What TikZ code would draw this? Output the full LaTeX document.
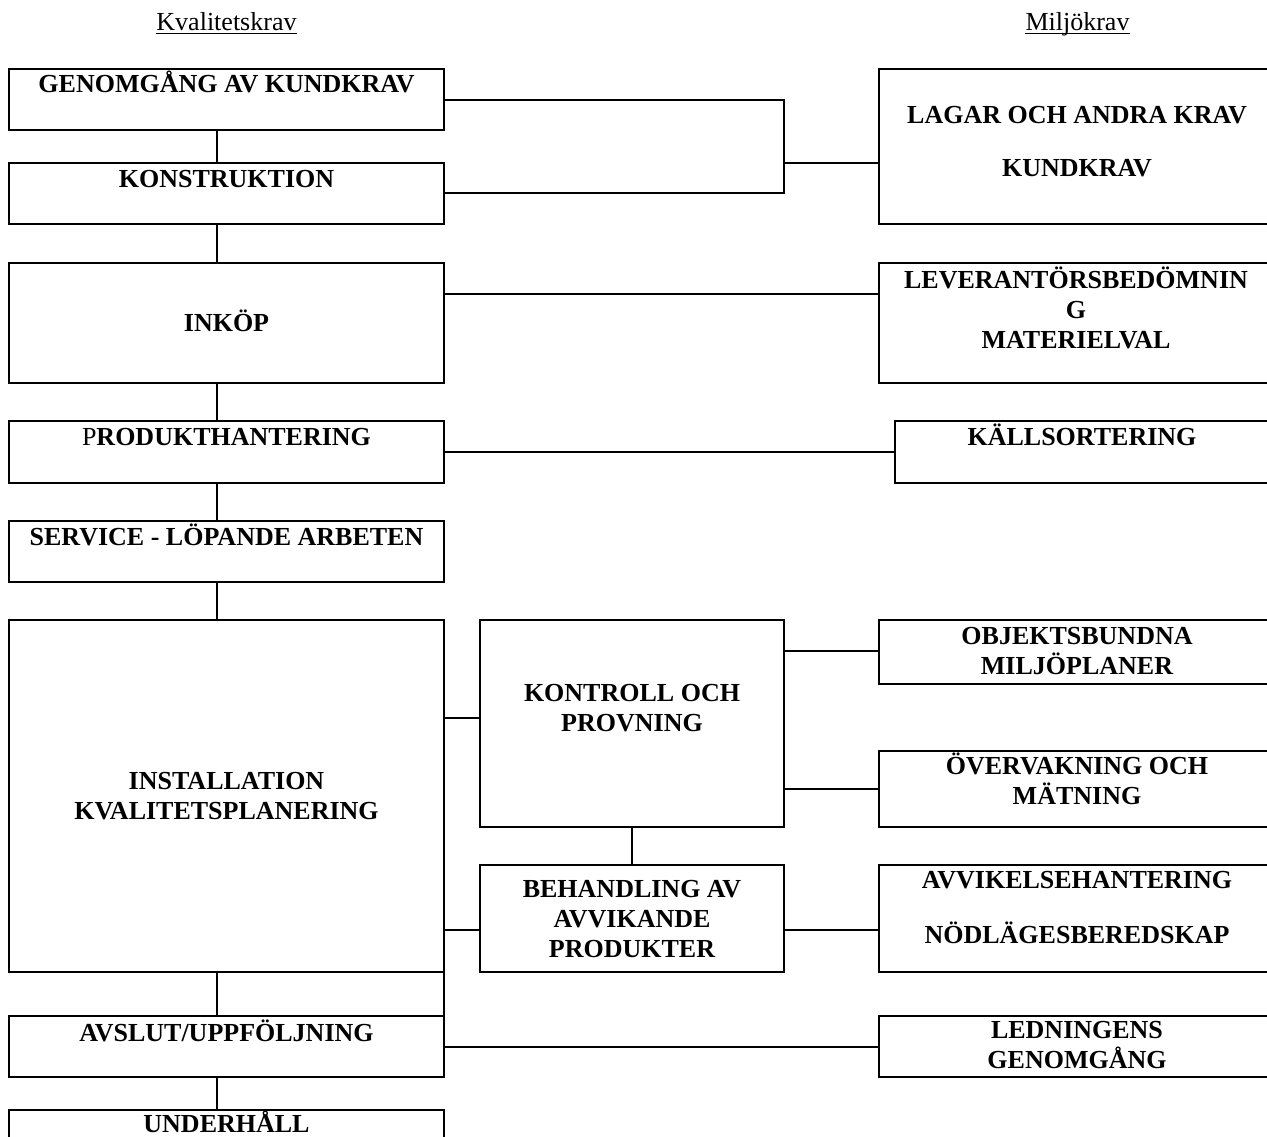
\documentclass[tikz,border=0pt]{standalone}
\usepackage{fontspec}
\setmainfont{Liberation Serif}
\usetikzlibrary{calc}
\begin{document}
\begin{tikzpicture}[x=1pt,y=-1pt,
  box/.style={draw, line width=1.8pt, inner sep=0pt, outer sep=0pt, anchor=north west},
  txt/.style={font=\fontsize{26}{30}\selectfont\bfseries, align=center, inner sep=0pt, anchor=base},
  head/.style={font=\fontsize{26}{30}\selectfont, inner sep=0pt, anchor=base},
  conn/.style={line width=1.8pt},
  uline/.style={line width=1.1pt}]
\fill[white] (0,0) rectangle (1267,1137);
\path[use as bounding box] (0,0) rectangle (1267,1137);
\clip (0,0) rectangle (1267,1137);

% headings
\node[head] (kval) at (226.5,31) {Kvalitetskrav};
\node[head] (milj) at (1077.5,31) {Miljökrav};
\draw[uline] ([yshift=-2.5pt]kval.base west) -- ([yshift=-2.5pt]kval.base east);
\draw[uline] ([yshift=-2.5pt]milj.base west) -- ([yshift=-2.5pt]milj.base east);

% left column
\node[box, minimum width=435pt, minimum height=61pt]  (genom)  at (9,69) {};
\node[box, minimum width=435pt, minimum height=61pt]  (konstr) at (9,163) {};
\node[box, minimum width=435pt, minimum height=120pt] (inkop)  at (9,263) {};
\node[box, minimum width=435pt, minimum height=62pt]  (prod)   at (9,421) {};
\node[box, minimum width=435pt, minimum height=61pt]  (serv)   at (9,521) {};
\node[box, minimum width=435pt, minimum height=352pt] (inst)   at (9,620) {};
\node[box, minimum width=435pt, minimum height=61pt]  (avsl)   at (9,1016) {};
\node[box, minimum width=435pt, minimum height=61pt]  (underh) at (9,1110) {};

% (anchor=base of a multi-line text is the baseline of its last line)
\node[txt] (genomT)  at (226.5,93)  {GENOMGÅNG AV KUNDKRAV};
\node[txt] (konstrT) at (226.5,187) {KONSTRUKTION};
\node[txt] (inkopT)  at (226.5,331) {INKÖP};
\node[txt] (prodT)   at (226.5,445) {{\mdseries P}RODUKTHANTERING};
\node[txt] (servT)   at (226.5,545) {SERVICE - LÖPANDE ARBETEN};
\node[txt] (instT)   at (226.5,819) {INSTALLATION\\KVALITETSPLANERING};
\node[txt] (avslT)   at (226.5,1041) {AVSLUT/UPPFÖLJNING};
\node[txt] (underhT) at (226.5,1132) {UNDERHÅLL};

% middle column
\node[box, minimum width=304pt, minimum height=207pt] (kontr) at (480,620) {};
\node[box, minimum width=304pt, minimum height=107pt] (behan) at (480,865) {};
\node[txt] (kontrT) at (632,731) {KONTROLL OCH\\PROVNING};
\node[txt] (behanT) at (632,957) {BEHANDLING AV\\AVVIKANDE\\PRODUKTER};

% right column
\node[box, minimum width=400pt, minimum height=155pt] (lagar) at (879,69) {};
\node[box, minimum width=400pt, minimum height=120pt] (lev)   at (879,263) {};
\node[box, minimum width=384pt, minimum height=62pt]  (kall)  at (895,421) {};
\node[box, minimum width=400pt, minimum height=64pt]  (obj)   at (879,620) {};
\node[box, minimum width=400pt, minimum height=76pt]  (overv) at (879,751) {};
\node[box, minimum width=400pt, minimum height=107pt] (avvik) at (879,865) {};
\node[box, minimum width=400pt, minimum height=61pt]  (ledn)  at (879,1016) {};

\node[txt] (lagarT) at (1077,177) {LAGAR OCH ANDRA KRAV\\[24pt]KUNDKRAV};
\node[txt] (levT)   at (1076,348) {LEVERANTÖRSBEDÖMNIN\\G\\MATERIELVAL};
\node[txt] (kallT)  at (1082,445) {KÄLLSORTERING};
\node[txt] (objT)   at (1077,674) {OBJEKTSBUNDNA\\MILJÖPLANER};
\node[txt] (overvT) at (1077,804) {ÖVERVAKNING OCH\\MÄTNING};
\node[txt] (avvikT) at (1077,943) {AVVIKELSEHANTERING\\[25pt]NÖDLÄGESBEREDSKAP};
\node[txt] (lednT)  at (1077,1068) {LEDNINGENS\\GENOMGÅNG};

% vertical chain, left column
\draw[conn] (genom.south -| 217,0) -- (konstr.north -| 217,0);
\draw[conn] (konstr.south -| 217,0) -- (inkop.north -| 217,0);
\draw[conn] (inkop.south -| 217,0) -- (prod.north -| 217,0);
\draw[conn] (prod.south -| 217,0) -- (serv.north -| 217,0);
\draw[conn] (serv.south -| 217,0) -- (inst.north -| 217,0);
\draw[conn] (inst.south -| 217,0) -- (avsl.north -| 217,0);
\draw[conn] (avsl.south -| 217,0) -- (underh.north -| 217,0);
\draw[conn] (inst.south east) -- (avsl.north east);

% fork from the first two boxes
\coordinate (fork) at (784,163);
\draw[conn] (genom.east |- 0,100) -| (fork) |- (konstr.east |- 0,193);
\draw[conn] (fork) -- (lagar.west |- fork);

% horizontal links
\draw[conn] (inkop.east |- 0,294) -- (lev.west |- 0,294);
\draw[conn] (prod.east |- 0,452) -- (kall.west |- 0,452);
\draw[conn] (inst.east |- 0,718) -- (kontr.west |- 0,718);
\draw[conn] (inst.east |- 0,930) -- (behan.west |- 0,930);
\draw[conn] (kontr.south) -- (behan.north);
\draw[conn] (kontr.east |- 0,651) -- (obj.west |- 0,651);
\draw[conn] (kontr.east |- 0,789) -- (overv.west |- 0,789);
\draw[conn] (behan.east |- 0,930) -- (avvik.west |- 0,930);
\draw[conn] (avsl.east |- 0,1047) -- (ledn.west |- 0,1047);
\end{tikzpicture}
\end{document}
